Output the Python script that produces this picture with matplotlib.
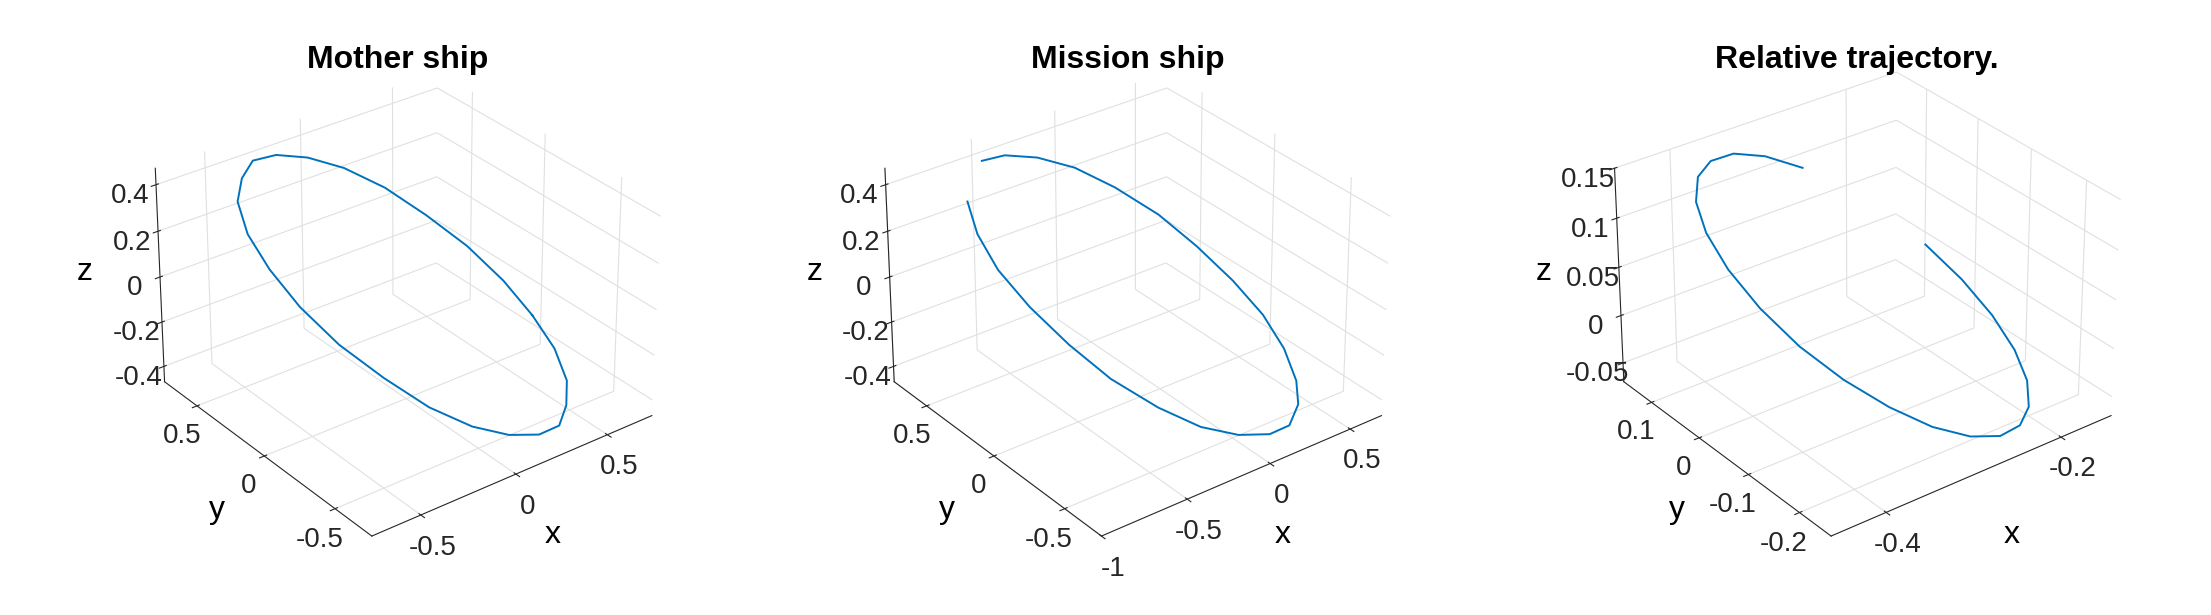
import numpy as np
import matplotlib
matplotlib.use("Agg")
import matplotlib.pyplot as plt

mother_x = [.70, .68, .61, .49, .35, .18, 0, -.18, -.35, -.49, -.61, -.68, -.70, -.68, -.61, -.49, -.35, -.18, 0, .18, .35, .49, .61, .68, .70]
mother_y = [0, .18, .35, .49, .61, .68, .70, .68, .61, .49, .35, .18, 0, -.18, -.35, -.49, -.61, -.68, -.70, -.68, -.61, -.49, -.35, -.18, 0]
mother_z = [-.32, -.23, -.12, 0, .12, .23, .32, .39, .44, .45, .44, .39, .32, .23, .12, 0, -.12, -.23, -.32, -.39, -.44, -.45, -.44, -.39, -.32]

# Mission ship orbit (open near the top)
mission_x = [-.84, -.92, -.95, -.92, -.84, -.72, -.55, -.36, -.15, .06, .25, .42, .54, .62, .65, .62, .54, .42, .25, .06, -.15, -.36, -.55]
mission_y = [.35, .18, 0, -.18, -.35, -.49, -.61, -.68, -.70, -.68, -.61, -.49, -.35, -.18, 0, .18, .35, .49, .61, .68, .70, .68, .61]
mission_z = [.44, .39, .32, .23, .12, 0, -.12, -.23, -.32, -.39, -.44, -.45, -.44, -.39, -.32, -.23, -.12, 0, .12, .23, .32, .39, .44]

# Relative trajectory (open on the right)
rel_x = [-.261, -.30, -.339, -.375, -.406, -.430, -.445, -.45, -.445, -.430, -.406, -.375, -.339, -.30, -.261, -.225, -.194, -.170, -.155, -.15, -.155, -.170]
rel_y = [.143, .15, .143, .123, .091, .05, .002, -.05, -.102, -.15, -.191, -.223, -.243, -.25, -.243, -.223, -.191, -.15, -.102, -.05, .002, .05]
rel_z = [.093, .115, .132, .142, .146, .142, .132, .115, .093, .067, .04, .013, -.013, -.035, -.052, -.062, -.066, -.062, -.052, -.035, -.013, .013]

LINE = "#0072BD"
plt.rcParams["font.family"] = ["Liberation Sans", "DejaVu Sans"]

fig = plt.figure(figsize=(22.11, 6.15), dpi=100, facecolor="white")

panels = [
    ("Mother ship", mother_x, mother_y, mother_z,
     [-0.5, 0, 0.5], ["-0.5", "0", "0.5"], [-0.5, 0, 0.5], ["-0.5", "0", "0.5"],
     [-0.4, -0.2, 0, 0.2, 0.4], ["-0.4", "-0.2", "0", "0.2", "0.4"],
     (-0.75, 0.75), (-0.75, 0.75), (-0.47, 0.47)),
    ("Mission ship", mission_x, mission_y, mission_z,
     [-1, -0.5, 0, 0.5], ["-1", "-0.5", "0", "0.5"], [-0.5, 0, 0.5], ["-0.5", "0", "0.5"],
     [-0.4, -0.2, 0, 0.2, 0.4], ["-0.4", "-0.2", "0", "0.2", "0.4"],
     (-1.0, 0.7), (-0.75, 0.75), (-0.47, 0.47)),
    ("Relative trajectory.", rel_x, rel_y, rel_z,
     [-0.4, -0.2], ["-0.4", "-0.2"], [-0.2, -0.1, 0, 0.1], ["-0.2", "-0.1", "0", "0.1"],
     [-0.05, 0, 0.05, 0.1, 0.15], ["-0.05", "0", "0.05", "0.1", "0.15"],
     (-0.46, -0.14), (-0.26, 0.16), (-0.07, 0.15)),
]

lefts = [0.03, 0.36, 0.69]
for left, (title, xs, ys, zs, xt, xtl, yt, ytl, zt, ztl, xl, yl, zl) in zip(lefts, panels):
    ax = fig.add_axes([left, 0.02, 0.30, 0.98], projection="3d")
    ax.plot(xs, ys, zs, color=LINE, lw=1.4)
    ax.view_init(elev=30, azim=-127.5)
    ax.set_xlim(*xl)
    ax.set_ylim(*yl)
    ax.set_zlim(*zl)
    ax.set_xticks(xt)
    ax.set_xticklabels(xtl)
    ax.set_yticks(yt)
    ax.set_yticklabels(ytl)
    ax.set_zticks(zt)
    ax.set_zticklabels(ztl)
    ax.tick_params(labelsize=20, colors="#262626", pad=4)
    for axis in (ax.xaxis, ax.yaxis, ax.zaxis):
        axis.set_pane_color((1, 1, 1, 0))
        axis._axinfo["grid"]["color"] = "#e0e0e0"
        axis._axinfo["grid"]["linewidth"] = 0.8
        axis.line.set_color("#262626")
    ax.set_xlabel("x", fontsize=23, labelpad=16)
    ax.set_ylabel("y", fontsize=23, labelpad=16)
    ax.set_zlabel("z", fontsize=23, labelpad=14)
    ax.set_title(title, fontsize=23, fontweight="bold", y=0.95)
    ax.set_box_aspect((1, 1, 0.7), zoom=0.9)

fig.savefig("out.png", dpi=100, facecolor="white")
